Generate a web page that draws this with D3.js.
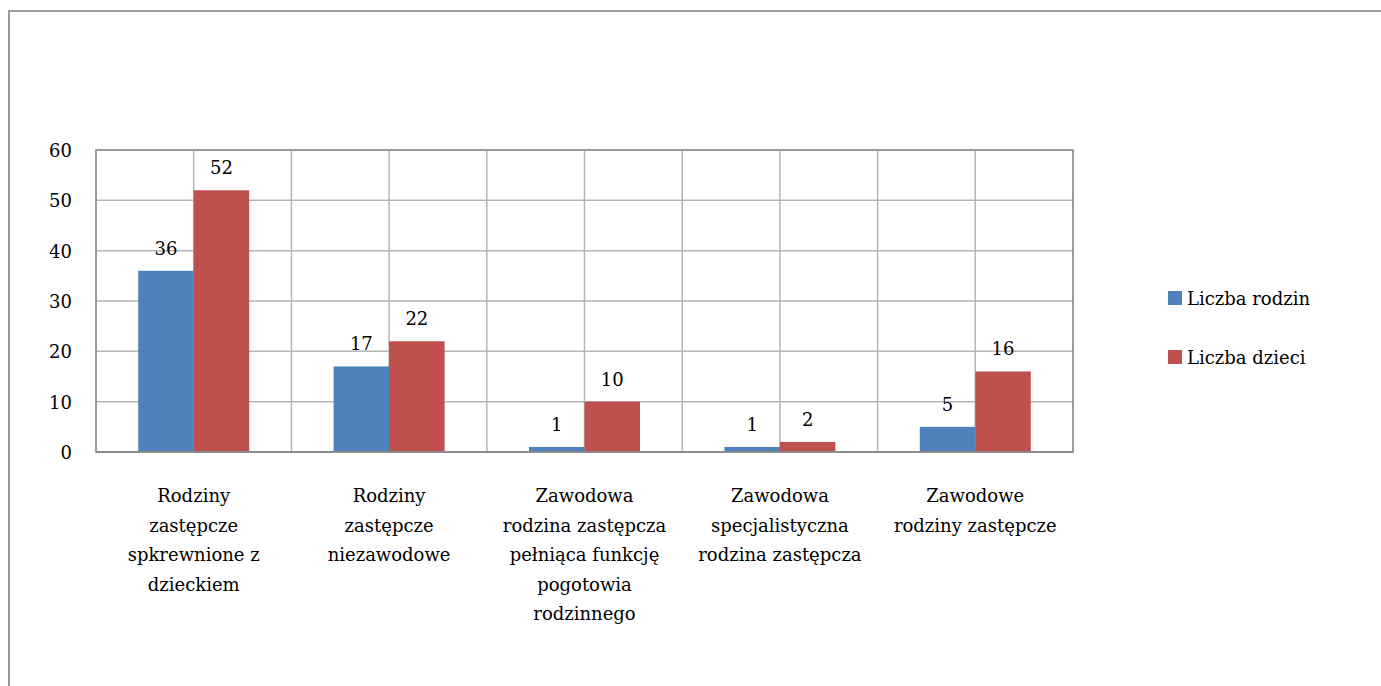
<!DOCTYPE html>
<html>
<head>
<meta charset="utf-8">
<script src="https://cdn.jsdelivr.net/npm/d3@7"></script>
<style>
  body { margin: 0; background: #fff; }
</style>
</head>
<body>
<svg id="chart" width="1381" height="686"></svg>
<script>
const categories = [
  ["Rodziny", "zastępcze", "spkrewnione z", "dzieckiem"],
  ["Rodziny", "zastępcze", "niezawodowe"],
  ["Zawodowa", "rodzina zastępcza", "pełniąca funkcję", "pogotowia", "rodzinnego"],
  ["Zawodowa", "specjalistyczna", "rodzina zastępcza"],
  ["Zawodowe", "rodziny zastępcze"]
]
const seriesNames = ["Liczba rodzin", "Liczba dzieci"]
const rodziny = [36, 17, 1, 1, 5]
const dzieci = [52, 22, 10, 2, 16]
const yTicks = [0, 10, 20, 30, 40, 50, 60]

const colors = ["#4F81BD", "#C0504D"]
const series = [rodziny, dzieci]
const font = "DejaVu Serif"
const fontSize = 18

const svg = d3.select("#chart")
const plotLeft = 96, plotRight = 1073, plotTop = 150, plotBottom = 452

// outer frame
svg.append("rect")
  .attr("x", 9).attr("y", 11)
  .attr("width", 1400).attr("height", 700)
  .attr("fill", "none")
  .attr("stroke", "#999")
  .attr("stroke-width", 2)

const x = d3.scaleBand()
  .domain(d3.range(categories.length))
  .range([plotLeft, plotRight])

const y = d3.scaleLinear()
  .domain([0, 60])
  .range([plotBottom, plotTop])

const g = svg.append("g")

// horizontal grid
g.selectAll("line.h")
  .data(yTicks)
  .enter().append("line")
  .attr("x1", plotLeft).attr("x2", plotRight)
  .attr("y1", d => y(d)).attr("y2", d => y(d))
  .attr("stroke", "#b5b5b5")
  .attr("stroke-width", 1.5)

// vertical grid at category edges and centers
const vLines = []
categories.forEach((c, i) => {
  vLines.push(x(i))
  vLines.push(x(i) + x.bandwidth() / 2)
})
vLines.push(plotRight)
g.selectAll("line.v")
  .data(vLines)
  .enter().append("line")
  .attr("x1", d => d).attr("x2", d => d)
  .attr("y1", plotTop).attr("y2", plotBottom)
  .attr("stroke", "#b5b5b5")
  .attr("stroke-width", 1.5)

// plot border
g.append("rect")
  .attr("x", plotLeft).attr("y", plotTop)
  .attr("width", plotRight - plotLeft).attr("height", plotBottom - plotTop)
  .attr("fill", "none")
  .attr("stroke", "#8c8c8c")
  .attr("stroke-width", 1.5)

const barW = x.bandwidth() * 0.284

series.forEach((vals, s) => {
  const bars = svg.append("g")
  bars.selectAll("rect")
    .data(vals)
    .enter().append("rect")
    .attr("x", (d, i) => x(i) + x.bandwidth() / 2 + (s - 1) * barW)
    .attr("y", d => y(d))
    .attr("width", barW)
    .attr("height", d => y(0) - y(d))
    .attr("fill", colors[s])

  bars.selectAll("text")
    .data(vals)
    .enter().append("text")
    .attr("x", (d, i) => x(i) + x.bandwidth() / 2 + (s - 0.5) * barW)
    .attr("y", d => y(d) - 16)
    .attr("text-anchor", "middle")
    .attr("font-family", font)
    .attr("font-size", fontSize)
    .attr("fill", "#000")
    .text(d => d)
})

// bottom axis line
svg.append("line")
  .attr("x1", plotLeft).attr("x2", plotRight)
  .attr("y1", plotBottom).attr("y2", plotBottom)
  .attr("stroke", "#8c8c8c")
  .attr("stroke-width", 2)

// y labels
svg.append("g")
  .selectAll("text")
  .data(yTicks)
  .enter().append("text")
  .attr("x", 72)
  .attr("y", d => y(d) + 7)
  .attr("text-anchor", "end")
  .attr("font-family", font)
  .attr("font-size", fontSize)
  .text(d => d)

// category labels
categories.forEach((lines, i) => {
  const t = svg.append("text")
    .attr("text-anchor", "middle")
    .attr("font-family", font)
    .attr("font-size", fontSize)
  lines.forEach((ln, j) => {
    t.append("tspan")
      .attr("x", x(i) + x.bandwidth() / 2)
      .attr("y", 502 + j * 29.5)
      .text(ln)
  })
})

// legend
const legend = svg.append("g")
seriesNames.forEach((name, i) => {
  legend.append("rect")
    .attr("x", 1168).attr("y", 291 + i * 59)
    .attr("width", 14).attr("height", 14)
    .attr("fill", colors[i])
  legend.append("text")
    .attr("x", 1187).attr("y", 305 + i * 59)
    .attr("font-family", font)
    .attr("font-size", fontSize)
    .text(name)
})
</script>
</body>
</html>
